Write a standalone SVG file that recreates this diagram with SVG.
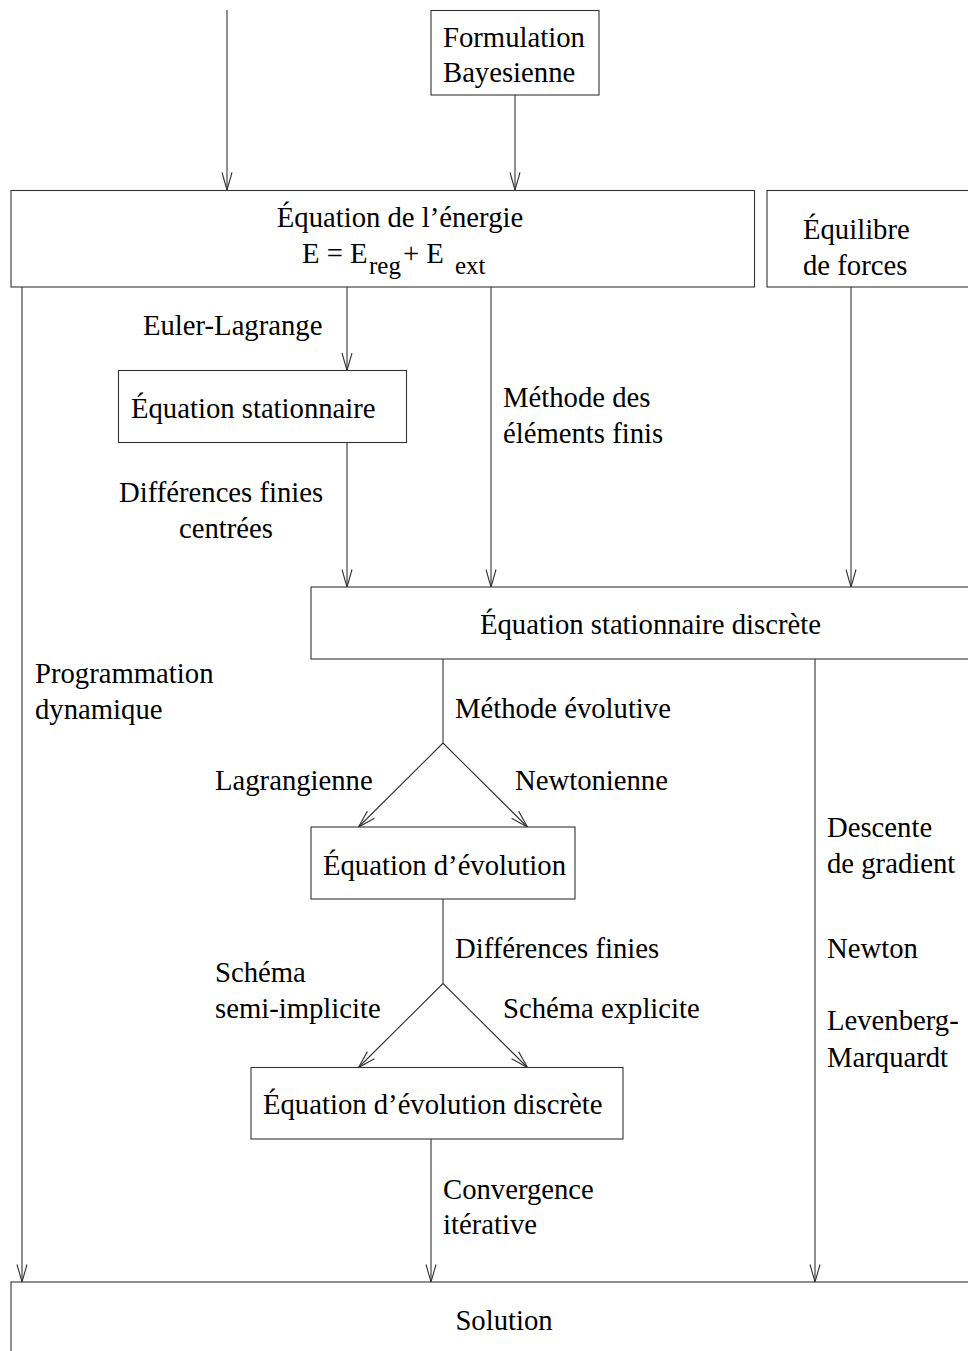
<svg xmlns="http://www.w3.org/2000/svg" width="968" height="1351" viewBox="0 0 968 1351">
<style>
  .box { fill: #ffffff; stroke: #333333; stroke-width: 1.1; }
  .t { font-family: "Liberation Serif", "Times New Roman", serif; font-size: 28.7px; fill: #000000; }
  .mid { text-anchor: middle; }
  .sub { font-size: 25px; }
  .edge { fill: none; stroke: #333333; stroke-width: 1.1; }
</style>
<defs>
  <marker id="arr" markerWidth="22" markerHeight="14" viewBox="-20 -7 22 14" refX="0" refY="0" orient="auto" markerUnits="userSpaceOnUse">
    <path d="M-17.5,-5 L0,0 L-17.5,5" fill="none" stroke="#333333" stroke-width="1.1"/>
  </marker>
</defs>
<rect width="968" height="1351" fill="#ffffff"/>

<g id="connectors">
  <path class="edge" d="M227,10 V190" marker-end="url(#arr)"/>
  <path class="edge" d="M515,95 V190" marker-end="url(#arr)"/>
  <path class="edge" d="M22,287 V1282" marker-end="url(#arr)"/>
  <path class="edge" d="M347,287 V370.5" marker-end="url(#arr)"/>
  <path class="edge" d="M491,287 V587" marker-end="url(#arr)"/>
  <path class="edge" d="M851,287 V587" marker-end="url(#arr)"/>
  <path class="edge" d="M347,442.5 V587" marker-end="url(#arr)"/>
  <path class="edge" d="M443,659 V743"/>
  <path class="edge" d="M443,743 L358.5,827" marker-end="url(#arr)"/>
  <path class="edge" d="M443,743 L527.5,827" marker-end="url(#arr)"/>
  <path class="edge" d="M443,899 V983.5"/>
  <path class="edge" d="M443,983.5 L358.5,1067.5" marker-end="url(#arr)"/>
  <path class="edge" d="M443,983.5 L527.5,1067.5" marker-end="url(#arr)"/>
  <path class="edge" d="M431,1139 V1282" marker-end="url(#arr)"/>
  <path class="edge" d="M815,659 V1282" marker-end="url(#arr)"/>
</g>

<g id="labels">
  <text class="t" x="143" y="335">Euler-Lagrange</text>
  <text class="t" x="503" y="407">Méthode des</text>
  <text class="t" x="503" y="443">éléments finis</text>
  <text class="t" x="119" y="502">Différences finies</text>
  <text class="t" x="179" y="538">centrées</text>
  <text class="t" x="35" y="683">Programmation</text>
  <text class="t" x="35" y="719">dynamique</text>
  <text class="t" x="455" y="718">Méthode évolutive</text>
  <text class="t" x="215" y="790">Lagrangienne</text>
  <text class="t" x="515" y="790">Newtonienne</text>
  <text class="t" x="455" y="958">Différences finies</text>
  <text class="t" x="215" y="982">Schéma</text>
  <text class="t" x="215" y="1018">semi-implicite</text>
  <text class="t" x="503" y="1018">Schéma explicite</text>
  <text class="t" x="443" y="1199">Convergence</text>
  <text class="t" x="443" y="1234">itérative</text>
  <text class="t" x="827" y="837">Descente</text>
  <text class="t" x="827" y="873">de gradient</text>
  <text class="t" x="827" y="958">Newton</text>
  <text class="t" x="827" y="1030">Levenberg-</text>
  <text class="t" x="827" y="1067">Marquardt</text>
</g>

<g id="node-formulation">
  <rect class="box" x="431" y="10.5" width="168" height="84.5"/>
  <text class="t" x="443" y="47">Formulation</text>
  <text class="t" x="443" y="82">Bayesienne</text>
</g>

<g id="node-energie">
  <rect class="box" x="11" y="190.5" width="743.5" height="96.5"/>
  <text class="t mid" x="400" y="227">Équation de l’énergie</text>
  <text class="t" y="263"><tspan x="302">E = E</tspan><tspan class="sub" x="369" y="274">reg</tspan><tspan x="403" y="263">+ E</tspan><tspan class="sub" x="455" y="274">ext</tspan></text>
</g>

<g id="node-equilibre">
  <rect class="box" x="767" y="190.5" width="240" height="96.5"/>
  <text class="t" x="803" y="239">Équilibre</text>
  <text class="t" x="803" y="275">de forces</text>
</g>

<g id="node-stationnaire">
  <rect class="box" x="118.5" y="370.5" width="288" height="72"/>
  <text class="t" x="131" y="418">Équation stationnaire</text>
</g>

<g id="node-stationnaire-discrete">
  <rect class="box" x="311" y="587" width="700" height="72"/>
  <text class="t" x="480" y="634">Équation stationnaire discrète</text>
</g>

<g id="node-evolution">
  <rect class="box" x="311" y="827" width="264" height="72"/>
  <text class="t" x="323" y="875">Équation d’évolution</text>
</g>

<g id="node-evolution-discrete">
  <rect class="box" x="251" y="1067.5" width="372" height="71.5"/>
  <text class="t" x="263" y="1114">Équation d’évolution discrète</text>
</g>

<g id="node-solution">
  <rect class="box" x="11" y="1282" width="1000" height="120"/>
  <text class="t mid" x="504" y="1330">Solution</text>
</g>
</svg>
